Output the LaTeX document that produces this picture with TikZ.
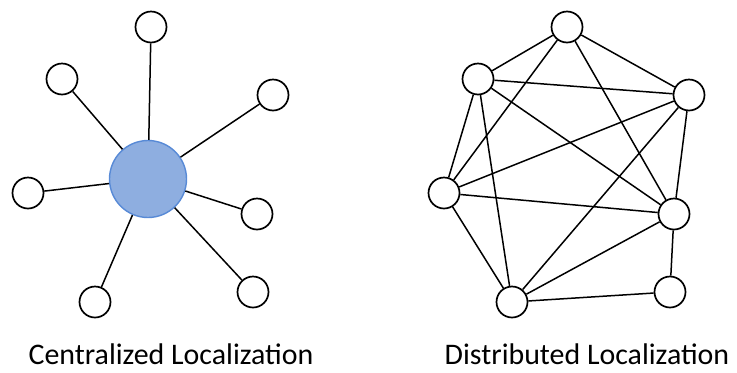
\documentclass[tikz,border=0pt]{standalone}
\usepackage{fontspec}
\setmainfont{Carlito}
\usepackage{tikz}
\usetikzlibrary{shapes}
\definecolor{hubfill}{RGB}{142,174,224}
\definecolor{hubdraw}{RGB}{88,138,214}
\tikzset{
  every sensor/.style={
    circle,
    draw,
    line width=1.7bp,
    fill=white,
    minimum size=31bp,
    inner sep=0pt
  },
  anchor node/.style={
    circle,
    draw=hubdraw,
    line width=1.4bp,
    fill=hubfill,
    minimum size=77bp,
    inner sep=0pt
  },
}
\tikzstyle{link} = [line width=1.5bp]
\tikzstyle{caption} = [font=\fontsize{30}{34}\selectfont, inner sep=0pt, anchor=base]

\begin{document}
\begin{tikzpicture}[x=1bp, y=-1bp]
        \useasboundingbox (0,0) rectangle (737,372);
        % centralized
        \node [anchor node] (hub) at (148,179) {};
        \node [every sensor] (c1) at (151,27) {};
        \node [every sensor] (c2) at (62,79) {};
        \node [every sensor] (c3) at (273,95) {};
        \node [every sensor] (c4) at (28,193) {};
        \node [every sensor] (c5) at (257,214) {};
        \node [every sensor] (c6) at (253,292) {};
        \node [every sensor] (c7) at (95,302) {};

        % distributed
        \node [every sensor] (dt) at (567,27) {};
        \node [every sensor] (da) at (478,79) {};
        \node [every sensor] (db) at (689,95) {};
        \node [every sensor] (dc) at (444,193) {};
        \node [every sensor] (dd) at (674,214) {};
        \node [every sensor] (de) at (512,302) {};
        \node [every sensor] (df) at (670,292) {};

        % captions
        \node [caption] (cap1) at (171,364) {Centralized Localization};
        \node [caption] (cap2) at (587,364) {Distributed Localization};

        % links
        \foreach \s in {c1,c2,c3,c4,c5,c6,c7}
            \draw [link] (hub) -- (\s);
        \foreach \a/\b in {dt/da, dt/db, dt/dc, dt/dd, da/db, da/dc, da/de, da/dd,
                           db/dc, db/de, db/dd, dc/dd, dc/de, dd/de, dd/df, de/df}
            \draw [link] (\a) -- (\b);
    \end{tikzpicture}
\end{document}
